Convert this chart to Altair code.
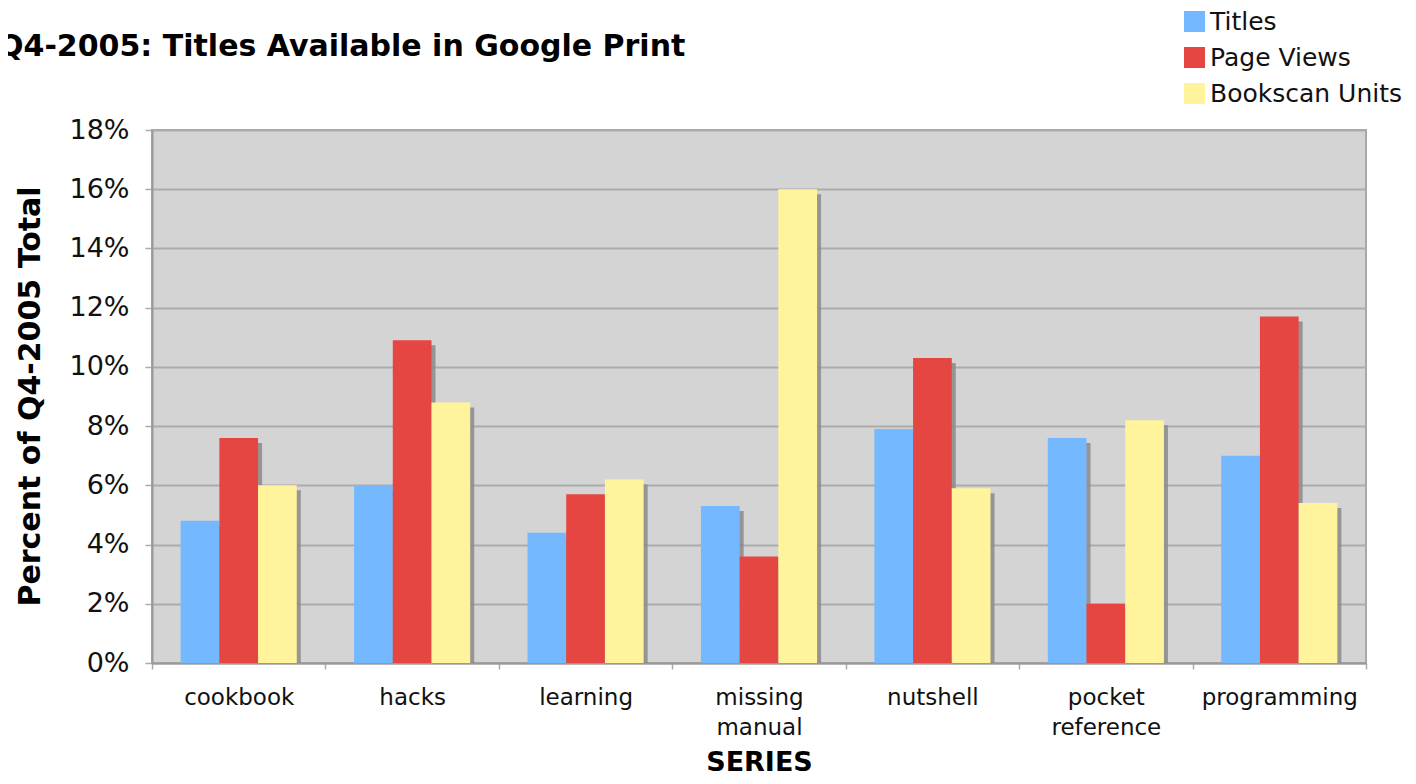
import altair as alt
import pandas as pd

categories = ["cookbook", "hacks", "learning", "missing manual", "nutshell", "pocket reference", "programming"]
series_names = ["Titles", "Page Views", "Bookscan Units"]
titles = [4.8, 6.0, 4.4, 5.3, 7.9, 7.6, 7.0]
page_views = [7.6, 10.9, 5.7, 3.6, 10.3, 2.0, 11.7]
bookscan = [6.0, 8.8, 6.2, 16.0, 5.9, 8.2, 5.4]
colors = ["#74B9FF", "#E64641", "#FFF39B"]

rows = []
for i, c in enumerate(categories):
    for s, vals in zip(series_names, [titles, page_views, bookscan]):
        rows.append({"category": c, "series": s, "value": vals[i] / 100.0})
df = pd.DataFrame(rows)

W, H = 1214, 533
SH = 5  # shadow offset

x_enc = alt.X("category:N", sort=categories,
              scale=alt.Scale(paddingInner=0, paddingOuter=0),
              axis=alt.Axis(title="SERIES", labelAngle=0,
                            labelExpr="split(datum.label, ' ')",
                            labelFont="DejaVu Sans", labelFontSize=23, labelColor="#111",
                            labelPadding=17, labelLineHeight=30,
                            tickBand="extent", tickSize=6, tickColor="#AAAAAA", tickWidth=1.5,
                            domainColor="#999999", domainWidth=2,
                            titleFont="DejaVu Sans", titleFontSize=27, titleFontWeight="bold",
                            titleColor="#000", titleX=607, titleY=99, titleBaseline="middle"))
xoff = alt.XOffset("series:N", sort=series_names, scale=alt.Scale(paddingOuter=0.74, paddingInner=0))
y_enc = alt.Y("value:Q", scale=alt.Scale(domain=[0, 0.18], nice=False),
              axis=alt.Axis(title="Percent of Q4-2005 Total", format=".0%", values=[i / 100 for i in range(0, 19, 2)],
                            labelFont="DejaVu Sans", labelFontSize=27, labelColor="#111", labelPadding=16,
                            tickSize=7, tickColor="#AAAAAA", tickWidth=1.5,
                            domainColor="#999999", domainWidth=2,
                            grid=True, gridColor="#ABABAB", gridWidth=2,
                            titleFont="DejaVu Sans", titleFontSize=30, titleFontWeight="bold",
                            titleColor="#000", titleX=-122, titleY=266, titleBaseline="middle", titleAngle=-90))

shadow = alt.Chart(df).mark_bar(color="#8A8A8A", clip=True, opacity=0.85).encode(
    x=alt.X("category:N", sort=categories,
            scale=alt.Scale(paddingInner=0, paddingOuter=0, range=[SH - 1, W + SH - 1]), axis=None),
    xOffset=alt.XOffset("series:N", sort=series_names,
                        scale=alt.Scale(paddingOuter=0.74, paddingInner=0)),
    y=alt.Y("value:Q", scale=alt.Scale(domain=[0, 0.18], nice=False, range=[H + SH, SH]), axis=None),
)
bars = alt.Chart(df).mark_bar().encode(
    x=x_enc, xOffset=xoff, y=y_enc,
    color=alt.Color("series:N", sort=series_names,
                    scale=alt.Scale(domain=series_names, range=colors),
                    legend=alt.Legend(title=None, orient="none", legendX=1030, legendY=-121,
                                      symbolType="square", symbolSize=440, symbolStrokeWidth=0,
                                      labelFont="DejaVu Sans", labelFontSize=25, labelColor="#111",
                                      labelOffset=3, rowPadding=10, padding=0, labelLimit=0))
)
title = alt.Chart(pd.DataFrame({"t": ["Q4-2005: Titles Available in Google Print"]})).mark_text(
    align="left", baseline="middle", font="DejaVu Sans", fontSize=30, fontWeight="bold", color="#000"
).encode(text="t:N", x=alt.value(-154), y=alt.value(-83))

chart = alt.layer(shadow, bars, title).resolve_scale(
    x="independent", y="independent", xOffset="independent"
).properties(
    width=W, height=H,
    autosize=alt.AutoSizeParams(type="none"),
    padding={"left": 144, "top": 122, "right": 40, "bottom": 112},
).configure_view(fill="#D4D4D4", stroke="#A8A8A8", strokeWidth=2)

chart.save("out.html", embed_options={"renderer": "svg", "actions": False})
